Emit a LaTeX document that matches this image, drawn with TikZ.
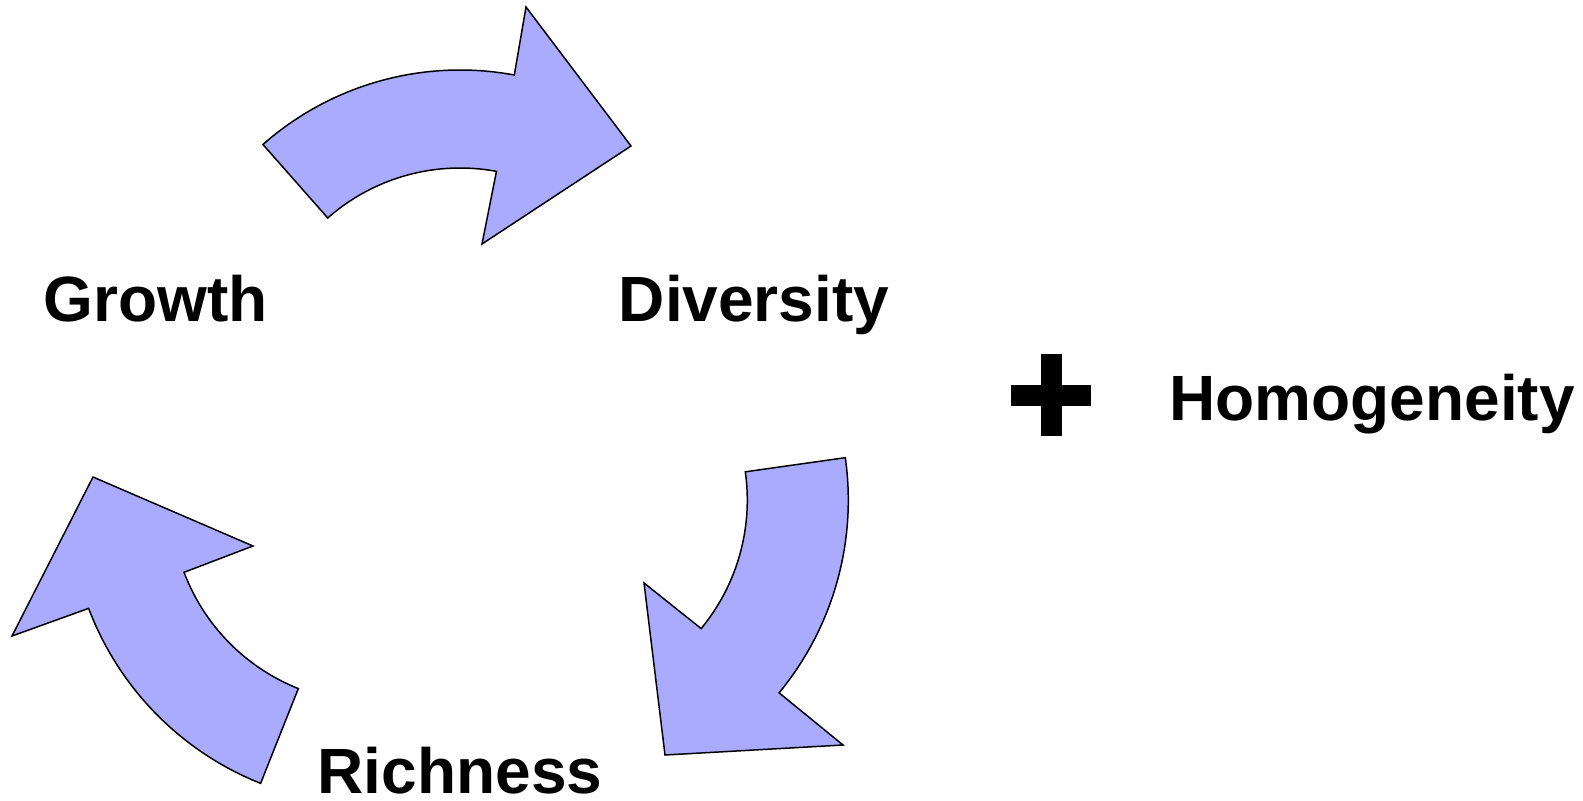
\documentclass[tikz,border=0pt]{standalone}
\usepackage{fontspec}
\setmainfont{Liberation Sans}
\usetikzlibrary{calc}
\definecolor{arrowfill}{RGB}{170,170,255}
\tikzset{
  bigarrow/.style={fill=arrowfill,draw=black,line width=0.75pt,line join=miter},
  label/.style={inner sep=0pt,anchor=base,font=\fontsize{32}{38}\selectfont\bfseries}
}
\begin{document}
\begin{tikzpicture}[x=0.5pt,y=0.5pt]
\useasboundingbox (0,0) rectangle (1583,800);
% centres of the curved arrows
\coordinate (c1) at (460,432);
\coordinate (c2) at (545.3,299.9);
\coordinate (c3) at (373,299.1);
% top arrow: Growth -> Diversity
\draw[bigarrow] ($(c1)+(131.4:149pt)$) arc[start angle=131.4,end angle=79.5,radius=149pt]
  -- (526,793) -- (631,654) -- (482,556)
  -- ($(c1)+(79.5:100pt)$) arc[start angle=79.5,end angle=131.4,radius=100pt] -- cycle;
% right arrow: Diversity -> Richness
\draw[bigarrow] ($(c2)+(8.05:151.5pt)$) arc[start angle=8.05,end angle=-39.5,radius=151.5pt]
  -- (843,55) -- (665,45) -- (644,217)
  -- ($(c2)+(-39.5:101pt)$) arc[start angle=-39.5,end angle=8.05,radius=101pt] -- cycle;
% left arrow: Richness -> Growth
\draw[bigarrow] ($(c3)+(-111.7:152pt)$) arc[start angle=-111.7,end angle=-159.3,radius=152pt]
  -- (12,164) -- (93,323) -- (253,254)
  -- ($(c3)+(-159.3:101pt)$) arc[start angle=-159.3,end angle=-111.7,radius=101pt] -- cycle;
% labels
\node[label] (growth) at (155.5,479) {Growth};
\node[label] (diversity) at (754,479) {Diversity};
\node[label] (richness) at (460,7) {Richness};
\node[label] (homog) at (1372,380) {Homogeneity};
% plus sign
\coordinate (plus) at (1051,405);
\fill ($(plus)+(-40,-10.5)$) rectangle ($(plus)+(40,10.5)$);
\fill ($(plus)+(-10.5,-41)$) rectangle ($(plus)+(10.5,41)$);
\end{tikzpicture}
\end{document}
